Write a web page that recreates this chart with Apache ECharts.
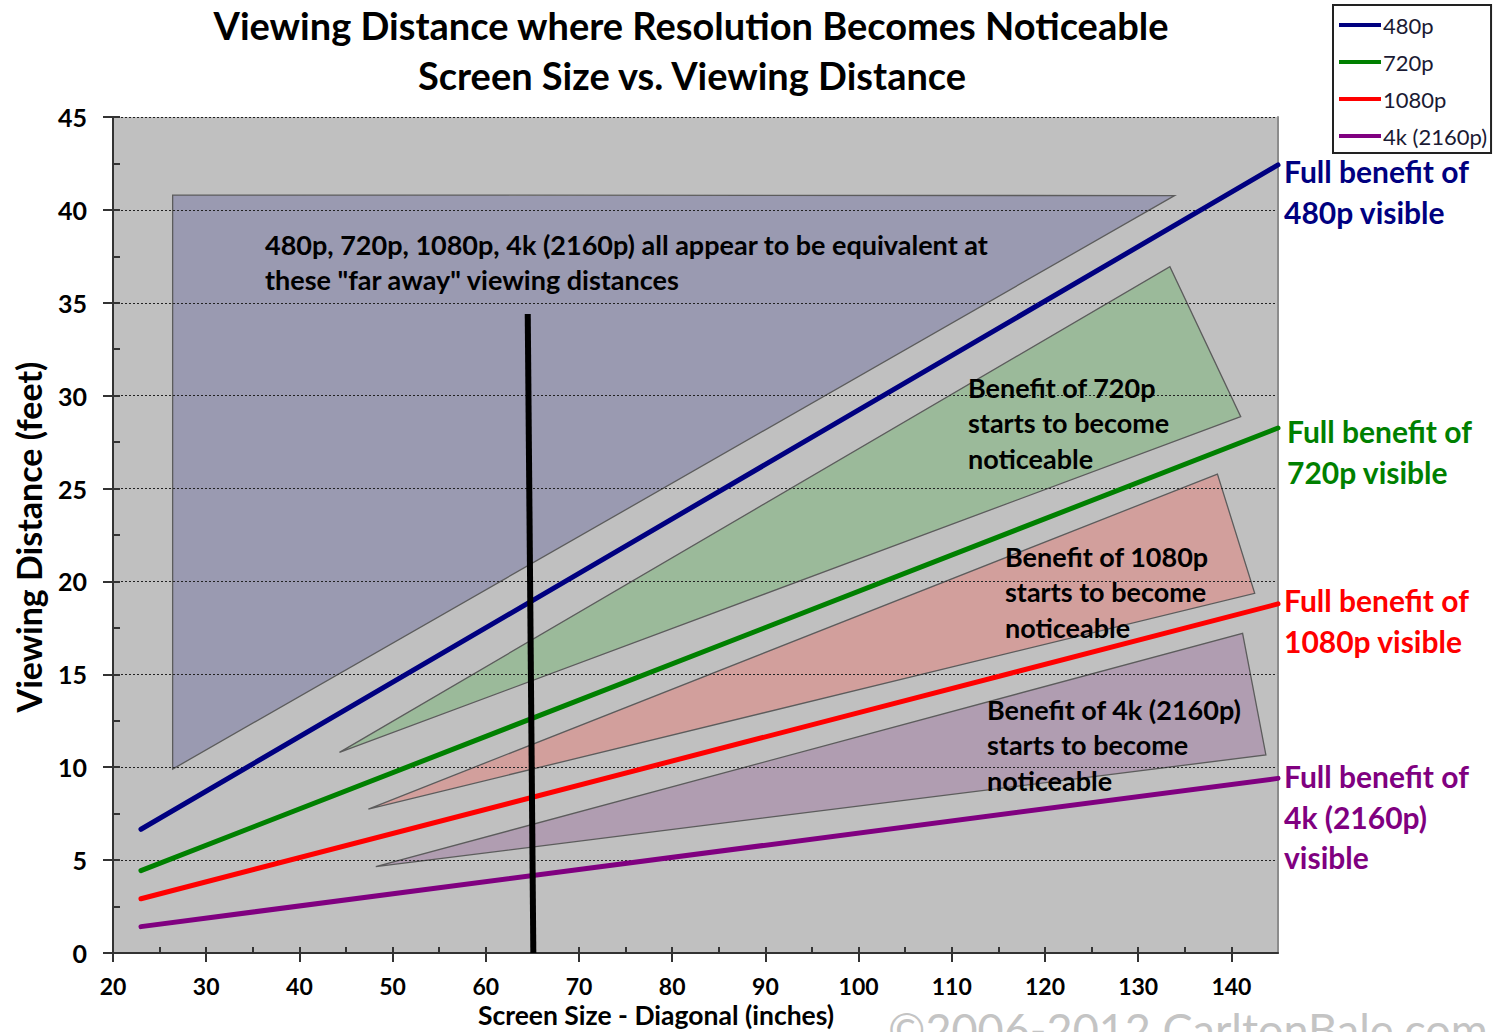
<!DOCTYPE html>
<html>
<head>
<meta charset="utf-8">
<script src="https://cdn.jsdelivr.net/npm/echarts@6/dist/echarts.min.js"></script>
<style>
  html, body { margin: 0; padding: 0; background: #ffffff; }
  #chart { width: 1497px; height: 1032px; }
</style>
</head>
<body>
<div id="chart"></div>
<script>
// Axis ticks (screen size in inches, distance in feet)
const xTicks = [20, 30, 40, 50, 60, 70, 80, 90, 100, 110, 120, 130, 140];
const xInnerTicks = [20, 25, 30, 35, 40, 45, 50, 55, 60, 65, 70, 75, 80, 85, 90, 95, 100, 105, 110, 115, 120, 125, 130, 135, 140];
const yTicks = [0, 5, 10, 15, 20, 25, 30, 35, 40, 45];
const yInnerTicks = [0, 2.5, 5, 7.5, 10, 12.5, 15, 17.5, 20, 22.5, 25, 27.5, 30, 32.5, 35, 37.5, 40, 42.5, 45];

// Distance at which each resolution's full benefit becomes visible: [screen size, feet]
const res480 = [[23, 6.66], [145, 42.42]];
const res720 = [[23, 4.43], [145, 28.26]];
const res1080 = [[23, 2.92], [145, 18.79]];
const res4k = [[23, 1.42], [145, 9.40]];

// Shaded zones: [screen size, feet] vertices
const farRegion = [[26.4, 40.8], [133.9, 40.77], [26.4, 9.9]];
const region720 = [[44.3, 10.8], [133.4, 36.94], [141.0, 28.87]];
const region1080 = [[47.4, 7.75], [138.5, 25.78], [142.5, 19.36]];
const region4k = [[48.2, 4.65], [141.2, 17.21], [143.7, 10.66]];

// Example viewing position marker
const markerLine = [[64.5, 34.4], [65.1, 0]];

const seriesNames = ['480p', '720p', '1080p', '4k (2160p)'];
const seriesColors = ['#000080', '#008000', '#ff0000', '#800080'];

const regions = [farRegion, region720, region1080, region4k];
const regionFills = ['#9a9ab1', '#9bba9a', '#d29f9c', '#b09db1'];

const FONT = 'Lato, "Open Sans", sans-serif';

function textEl(x, y, text, size, color, weight, align) {
  return {
    type: 'text', x: x, y: y, z: 100,
    style: {
      text: text, fill: color,
      font: (weight || 'bold') + ' ' + size + 'px ' + FONT,
      textAlign: align || 'left', textVerticalAlign: 'middle'
    }
  };
}

const graphicEls = [
  textEl(691, 25, 'Viewing Distance where Resolution Becomes Noticeable', 38, '#000', 'bold', 'center'),
  textEl(692, 75, 'Screen Size vs. Viewing Distance', 38, '#000', 'bold', 'center'),

  textEl(265, 244, '480p, 720p, 1080p, 4k (2160p) all appear to be equivalent at', 27, '#000'),
  textEl(265, 279, 'these "far away" viewing distances', 27, '#000'),

  textEl(968, 387, 'Benefit of 720p', 27, '#000'),
  textEl(968, 422, 'starts to become', 27, '#000'),
  textEl(968, 458, 'noticeable', 27, '#000'),

  textEl(1005, 556, 'Benefit of 1080p', 27, '#000'),
  textEl(1005, 591, 'starts to become', 27, '#000'),
  textEl(1005, 627, 'noticeable', 27, '#000'),

  textEl(987, 709, 'Benefit of 4k (2160p)', 27, '#000'),
  textEl(987, 744, 'starts to become', 27, '#000'),
  textEl(987, 780, 'noticeable', 27, '#000'),

  textEl(1284, 171, 'Full benefit of', 30, seriesColors[0]),
  textEl(1284, 212, '480p visible', 30, seriesColors[0]),
  textEl(1287, 431, 'Full benefit of', 30, seriesColors[1]),
  textEl(1287, 472, '720p visible', 30, seriesColors[1]),
  textEl(1284, 600, 'Full benefit of', 30, seriesColors[2]),
  textEl(1284, 641, '1080p visible', 30, seriesColors[2]),
  textEl(1284, 776, 'Full benefit of', 30, seriesColors[3]),
  textEl(1284, 817, '4k (2160p)', 30, seriesColors[3]),
  textEl(1284, 857, 'visible', 30, seriesColors[3]),

  textEl(656, 1015, 'Screen Size - Diagonal (inches)', 26.5, '#000', 'bold', 'center'),
  {
    type: 'text', x: 28, y: 537, rotation: Math.PI / 2, z: 100,
    style: {
      text: 'Viewing Distance (feet)', fill: '#000',
      font: 'bold 34px ' + FONT, textAlign: 'center', textVerticalAlign: 'middle'
    }
  },
  textEl(888, 1029, '\u00a92006-2012 CarltonBale.com', 45, '#c4c4c4', 'normal')
];

function lineSeries(name, data, color) {
  return {
    name: name, type: 'line', data: data, z: 4,
    symbol: 'none', clip: false,
    lineStyle: { color: color, width: 5, cap: 'round' },
    itemStyle: { color: color }
  };
}

const option = {
  animation: false,
  backgroundColor: '#ffffff',
  grid: {
    left: 113, top: 117, width: 1165, height: 836,
    show: true, backgroundColor: '#c0c0c0', borderWidth: 0, z: 0
  },
  legend: {
    data: seriesNames,
    orient: 'vertical',
    left: 1333, top: 5,
    padding: [9, 4, 6, 6],
    icon: 'rect',
    itemWidth: 42, itemHeight: 4, itemGap: 15,
    textStyle: { fontFamily: FONT, fontSize: 22, color: '#1a1a33', padding: [0, 0, 0, -3] },
    borderColor: '#222', borderWidth: 2, borderRadius: 0,
    backgroundColor: '#ffffff'
  },
  xAxis: [
    {
      type: 'value', min: 20, max: 145, position: 'bottom', z: 3,
      axisLine: { show: true, onZero: false, lineStyle: { color: '#333', width: 2 } },
      axisTick: { show: true, customValues: xTicks, length: 9, lineStyle: { color: '#333', width: 2 } },
      axisLabel: {
        customValues: xTicks, margin: 21,
        fontFamily: FONT, fontWeight: 'bold', fontSize: 23, color: '#000'
      },
      splitLine: { show: false }
    },
    {
      type: 'value', min: 20, max: 145, position: 'bottom', z: 3,
      axisLine: { show: false },
      axisTick: { show: true, inside: true, customValues: xInnerTicks, length: 6, lineStyle: { color: '#333', width: 2 } },
      axisLabel: { show: false },
      splitLine: { show: false }
    }
  ],
  yAxis: [
    {
      type: 'value', min: 0, max: 45, interval: 5, position: 'left', z: 3,
      axisLine: { show: true, onZero: false, lineStyle: { color: '#333', width: 2 } },
      axisTick: { show: true, length: 10, lineStyle: { color: '#333', width: 2 } },
      axisLabel: {
        margin: 26, fontFamily: FONT, fontWeight: 'bold', fontSize: 25, color: '#000'
      },
      splitLine: { show: true, lineStyle: { color: '#222', width: 1, type: [2, 2] } }
    },
    {
      type: 'value', min: 0, max: 45, position: 'left', z: 3,
      axisLine: { show: false },
      axisTick: { show: true, inside: true, customValues: yInnerTicks, length: 7, lineStyle: { color: '#333', width: 2 } },
      axisLabel: { show: false },
      splitLine: { show: false }
    },
    {
      type: 'value', min: 0, max: 45, position: 'right', z: 3,
      axisLine: { show: true, onZero: false, lineStyle: { color: '#8c8c8c', width: 2 } },
      axisTick: { show: false },
      axisLabel: { show: false },
      splitLine: { show: false }
    }
  ],
  graphic: { elements: graphicEls },
  series: [
    {
      name: 'zones', type: 'custom', z: 1, clip: false, silent: true,
      data: regions.map(function (r, i) { return [i]; }),
      renderItem: function (params, api) {
        const pts = regions[params.dataIndex].map(function (p) { return api.coord(p); });
        return {
          type: 'polygon',
          shape: { points: pts },
          style: { fill: regionFills[params.dataIndex], stroke: '#5c5c5c', lineWidth: 1.3 }
        };
      }
    },
    lineSeries(seriesNames[0], res480, seriesColors[0]),
    lineSeries(seriesNames[1], res720, seriesColors[1]),
    lineSeries(seriesNames[2], res1080, seriesColors[2]),
    lineSeries(seriesNames[3], res4k, seriesColors[3]),
    {
      name: 'marker', type: 'line', data: markerLine, z: 5,
      symbol: 'none', clip: false,
      lineStyle: { color: '#000', width: 6 }
    }
  ]
};

const chart = echarts.init(document.getElementById('chart'), null, { renderer: 'svg' });
chart.setOption(option);
</script>
</body>
</html>
